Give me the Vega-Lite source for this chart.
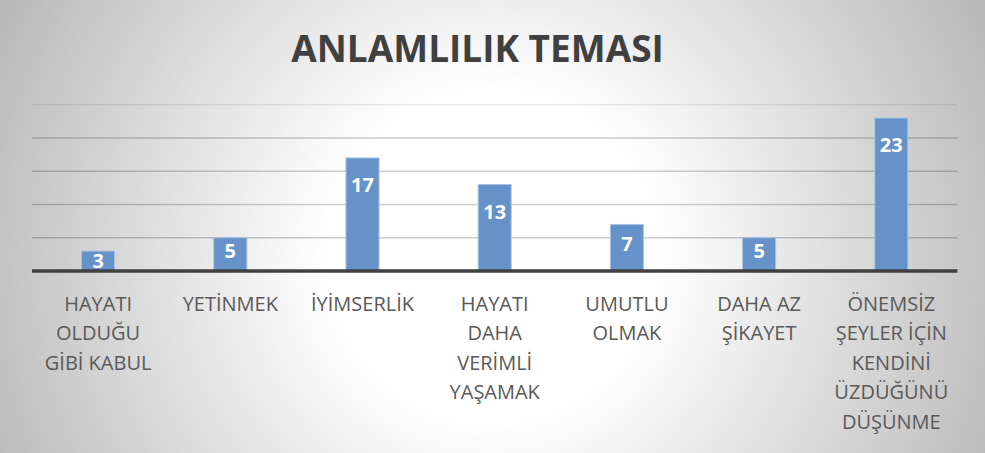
{
  "$schema": "https://vega.github.io/schema/vega-lite/v6.json",
  "width": 985,
  "height": 453,
  "autosize": {"type": "none"},
  "padding": 0,
  "background": "#c4c4c4",
  "config": {
    "font": "Open Sans",
    "view": {
      "stroke": null,
      "fill": {
        "gradient": "radial",
        "x1": 0.5, "y1": 0.53, "r1": 0,
        "x2": 0.5, "y2": 0.53, "r2": 0.56,
        "stops": [
          {"offset": 0, "color": "#ffffff"},
          {"offset": 0.3, "color": "#ffffff"},
          {"offset": 1, "color": "#b8b8b8"}
        ]
      }
    }
  },
  "title": {
    "text": "ANLAMLILIK TEMASI",
    "font": "Open Sans",
    "fontSize": 37,
    "fontWeight": "bold",
    "color": "#404040",
    "anchor": "middle",
    "frame": "group",
    "baseline": "alphabetic",
    "offset": -60,
    "dx": -15,
    "dy": 39
  },
  "datasets": {
    "main": [
      {"cat": "HAYATI|OLDUĞU|GİBİ KABUL", "v": 3},
      {"cat": "YETİNMEK", "v": 5},
      {"cat": "İYİMSERLİK", "v": 17},
      {"cat": "HAYATI|DAHA|VERİMLİ|YAŞAMAK", "v": 13},
      {"cat": "UMUTLU|OLMAK", "v": 7},
      {"cat": "DAHA AZ|ŞİKAYET", "v": 5},
      {"cat": "ÖNEMSİZ|ŞEYLER İÇİN|KENDİNİ|ÜZDÜĞÜNÜ|DÜŞÜNME", "v": 23}
    ],
    "grid": [{"g": 5}, {"g": 10}, {"g": 15}, {"g": 20}],
    "gridTop": [{"g": 25}],
    "base": [{"g": 0}]
  },
  "data": {"name": "main"},
  "resolve": {"scale": {"x": "independent"}},
  "layer": [
    {
      "data": {"name": "grid"},
      "mark": {"type": "rule", "stroke": "#000000", "strokeOpacity": 0.2, "strokeWidth": 1.5},
      "encoding": {
        "y": {"field": "g", "type": "quantitative", "scale": {"domain": [-27.36, 40.74], "nice": false, "zero": false}, "axis": null},
        "x": {"datum": 0, "type": "quantitative", "scale": {"domain": [-0.242, 7.209], "nice": false, "zero": false}, "axis": null},
        "x2": {"datum": 7}
      }
    },
    {
      "data": {"name": "gridTop"},
      "mark": {"type": "rule", "stroke": "#000000", "strokeOpacity": 0.08, "strokeWidth": 1.5},
      "encoding": {
        "y": {"field": "g", "type": "quantitative", "scale": {"domain": [-27.36, 40.74], "nice": false, "zero": false}, "axis": null},
        "x": {"datum": 0, "type": "quantitative", "scale": {"domain": [-0.242, 7.209], "nice": false, "zero": false}, "axis": null},
        "x2": {"datum": 7}
      }
    },
    {
      "mark": {"type": "bar", "width": {"band": 0.25}, "fill": "#6592c8", "stroke": "#a8c2e2", "strokeWidth": 1},
      "encoding": {
        "x": {
          "field": "cat", "type": "nominal", "sort": null,
          "scale": {"type": "band", "paddingInner": 0, "paddingOuter": 0.2254, "align": 0.537},
          "axis": {
            "title": null, "orient": "bottom", "offset": -182,
            "domain": false, "ticks": false, "tickSize": 0, "grid": false,
            "labelPadding": 23, "labelAngle": 0, "labelFont": "Open Sans",
            "labelFontSize": 20, "labelColor": "#595959", "labelLineHeight": 29.5,
            "labelLimit": 300, "labelOverlap": false, "labelBaseline": "top",
            "labelExpr": "split(datum.label, '|')"
          }
        },
        "y": {"field": "v", "type": "quantitative", "scale": {"domain": [-27.36, 40.74], "nice": false, "zero": false}, "axis": null},
        "y2": {"datum": 0}
      }
    },
    {
      "data": {"name": "base"},
      "mark": {"type": "rule", "stroke": "#404040", "strokeWidth": 3.5},
      "encoding": {
        "y": {"field": "g", "type": "quantitative", "scale": {"domain": [-27.36, 40.74], "nice": false, "zero": false}, "axis": null},
        "x": {"datum": 0, "type": "quantitative", "scale": {"domain": [-0.242, 7.209], "nice": false, "zero": false}, "axis": null},
        "x2": {"datum": 7}
      }
    },
    {
      "transform": [{"filter": "datum.v >= 10"}],
      "mark": {"type": "text", "color": "#ffffff", "font": "Open Sans", "fontSize": 20, "fontWeight": "bold", "baseline": "middle", "dy": 28},
      "encoding": {
        "x": {"field": "cat", "type": "nominal", "sort": null, "bandPosition": 0.5, "scale": {"type": "band", "domain": ["HAYATI|OLDUĞU|GİBİ KABUL", "YETİNMEK", "İYİMSERLİK", "HAYATI|DAHA|VERİMLİ|YAŞAMAK", "UMUTLU|OLMAK", "DAHA AZ|ŞİKAYET", "ÖNEMSİZ|ŞEYLER İÇİN|KENDİNİ|ÜZDÜĞÜNÜ|DÜŞÜNME"], "paddingInner": 0, "paddingOuter": 0.2254, "align": 0.537}, "axis": null},
        "y": {"field": "v", "type": "quantitative", "scale": {"domain": [-27.36, 40.74], "nice": false, "zero": false}, "axis": null},
        "text": {"field": "v", "type": "quantitative"}
      }
    },
    {
      "transform": [{"filter": "datum.v == 7"}],
      "mark": {"type": "text", "color": "#ffffff", "font": "Open Sans", "fontSize": 20, "fontWeight": "bold", "baseline": "middle", "dy": 21},
      "encoding": {
        "x": {"field": "cat", "type": "nominal", "sort": null, "bandPosition": 0.5, "scale": {"type": "band", "domain": ["HAYATI|OLDUĞU|GİBİ KABUL", "YETİNMEK", "İYİMSERLİK", "HAYATI|DAHA|VERİMLİ|YAŞAMAK", "UMUTLU|OLMAK", "DAHA AZ|ŞİKAYET", "ÖNEMSİZ|ŞEYLER İÇİN|KENDİNİ|ÜZDÜĞÜNÜ|DÜŞÜNME"], "paddingInner": 0, "paddingOuter": 0.2254, "align": 0.537}, "axis": null},
        "y": {"field": "v", "type": "quantitative", "scale": {"domain": [-27.36, 40.74], "nice": false, "zero": false}, "axis": null},
        "text": {"field": "v", "type": "quantitative"}
      }
    },
    {
      "transform": [{"filter": "datum.v == 5"}],
      "mark": {"type": "text", "color": "#ffffff", "font": "Open Sans", "fontSize": 20, "fontWeight": "bold", "baseline": "middle", "dy": 14},
      "encoding": {
        "x": {"field": "cat", "type": "nominal", "sort": null, "bandPosition": 0.5, "scale": {"type": "band", "domain": ["HAYATI|OLDUĞU|GİBİ KABUL", "YETİNMEK", "İYİMSERLİK", "HAYATI|DAHA|VERİMLİ|YAŞAMAK", "UMUTLU|OLMAK", "DAHA AZ|ŞİKAYET", "ÖNEMSİZ|ŞEYLER İÇİN|KENDİNİ|ÜZDÜĞÜNÜ|DÜŞÜNME"], "paddingInner": 0, "paddingOuter": 0.2254, "align": 0.537}, "axis": null},
        "y": {"field": "v", "type": "quantitative", "scale": {"domain": [-27.36, 40.74], "nice": false, "zero": false}, "axis": null},
        "text": {"field": "v", "type": "quantitative"}
      }
    },
    {
      "transform": [{"filter": "datum.v == 3"}],
      "mark": {"type": "text", "color": "#ffffff", "font": "Open Sans", "fontSize": 20, "fontWeight": "bold", "baseline": "middle", "dy": 11},
      "encoding": {
        "x": {"field": "cat", "type": "nominal", "sort": null, "bandPosition": 0.5, "scale": {"type": "band", "domain": ["HAYATI|OLDUĞU|GİBİ KABUL", "YETİNMEK", "İYİMSERLİK", "HAYATI|DAHA|VERİMLİ|YAŞAMAK", "UMUTLU|OLMAK", "DAHA AZ|ŞİKAYET", "ÖNEMSİZ|ŞEYLER İÇİN|KENDİNİ|ÜZDÜĞÜNÜ|DÜŞÜNME"], "paddingInner": 0, "paddingOuter": 0.2254, "align": 0.537}, "axis": null},
        "y": {"field": "v", "type": "quantitative", "scale": {"domain": [-27.36, 40.74], "nice": false, "zero": false}, "axis": null},
        "text": {"field": "v", "type": "quantitative"}
      }
    }
  ]
}
